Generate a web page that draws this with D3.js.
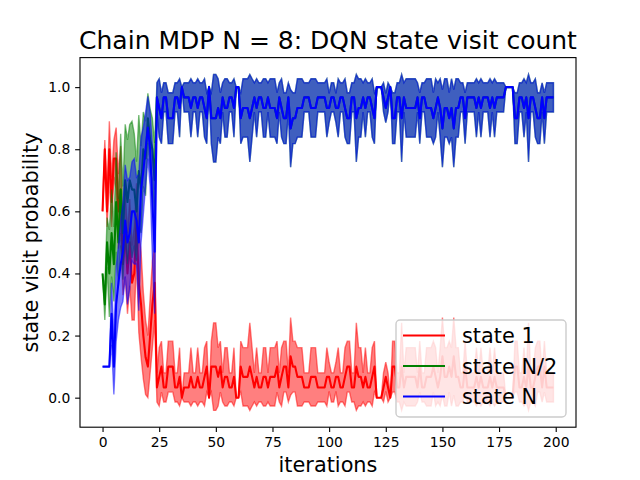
<!DOCTYPE html>
<html>
<head>
<meta charset="utf-8">
<script src="https://cdn.jsdelivr.net/npm/d3@7"></script>
<style>
  body { margin: 0; background: #fff; }
  svg { font-family: "DejaVu Sans", sans-serif; }
</style>
</head>
<body>
<div id="chart"></div>
<script>
// visit probability per iteration (mean over seeds) and its spread
const redMean = [
  0.6,0.8,0.6,0.8,0.63,0.77,0.77,0.6,0.67,0.43,
  0.53,0.4,0.5,0.37,0.4,0.57,0.37,0.3,0.2,0.13,
  0.1,0.2,0.3,0.37,0.033,
  0.067,0.1,0.033,0.033,0.1,0.1,0.1,0.033,0.033,0.067,
  0,0.033,0.033,0.033,0.067,0.033,0.033,0.067,0.033,0.033,
  0.067,0.1,0,0.1,0.1,0.1,0.067,0.1,0.033,0.067,
  0.067,0.033,0.033,0.067,0,0,0.1,0.067,0.067,0.067,
  0.1,0.067,0.033,0.067,0.033,0.033,0.067,0.067,0.033,0.067,
  0.067,0.067,0.1,0.033,0.067,0.1,0.1,0.033,0.133,0.1,
  0.1,0.067,0.067,0.067,0.033,0.033,0.033,0.067,0.067,0.067,
  0.033,0.033,0.033,0.033,0.067,0.067,0.033,0.033,0.067,0.067,
  0.033,0.033,0.067,0.1,0.1,0.033,0.033,0.1,0.067,0.067,
  0.033,0.067,0.033,0.033,0.067,0.1,0,0,0,0.033,
  0.067,0.033,0,0.1,0.1,0.033,0.033,0.1,0.033,0.067,
  0.067,0.067,0.067,0.067,0.033,0.1,0.033,0.033,0.067,0.067,
  0.067,0.1,0.067,0.033,0.067,0.133,0.067,0.067,0.1,0.067,
  0.133,0.067,0.067,0.033,0.033,0.1,0.033,0.033,0.033,0.033,
  0.067,0.033,0.067,0.033,0.033,0.033,0.067,0.033,0.067,0.033,
  0.033,0.033,0.033,0,0,0,0,0.1,0.1,0.033,
  0.033,0.067,0.033,0.1,0.033,0.033,0.067,0.1,0.1,0.033,
  0.1,0.033,0.033,0.033,0.033
];
const redSd = [
  0,0.03,0.05,0.09,0.08,0.06,0.1,0.12,0.14,0.1,
  0.14,0.13,0.14,0.12,0.15,0.12,0.16,0.17,0.14,0.12,
  0.1,0.12,0.14,0.12,0.047,
  0.094,0.082,0.047,0.047,0.082,0.082,0.082,0.047,0.047,0.094,
  0,0.047,0.047,0.047,0.094,0.047,0.047,0.094,0.047,0.047,
  0.094,0.082,0,0.082,0.141,0.141,0.094,0.082,0.047,0.094,
  0.094,0.047,0.047,0.094,0,0,0.082,0.094,0.094,0.094,
  0.141,0.094,0.047,0.094,0.047,0.047,0.094,0.094,0.047,0.094,
  0.094,0.094,0.082,0.047,0.094,0.082,0.082,0.047,0.125,0.082,
  0.082,0.094,0.094,0.094,0.047,0.047,0.047,0.094,0.094,0.094,
  0.047,0.047,0.047,0.047,0.094,0.047,0.047,0.047,0.047,0.094,
  0.047,0.047,0.094,0.082,0.082,0.047,0.047,0.141,0.094,0.094,
  0.047,0.094,0.047,0.047,0.094,0.082,0,0,0,0.047,
  0.047,0.047,0,0.082,0.082,0.047,0.047,0.141,0.047,0.094,
  0.094,0.094,0.094,0.094,0.047,0.082,0.047,0.047,0.094,0.094,
  0.094,0.082,0.094,0.047,0.094,0.125,0.094,0.094,0.082,0.094,
  0.125,0.094,0.094,0.047,0.047,0.082,0.047,0.047,0.047,0.047,
  0.094,0.047,0.094,0.047,0.047,0.047,0.094,0.047,0.094,0.047,
  0.047,0.047,0.047,0,0,0,0,0.082,0.082,0.047,
  0.047,0.094,0.047,0.141,0.047,0.047,0.094,0.082,0.082,0.047,
  0.082,0.047,0.047,0.047,0.047
];

// state N/2 runs right underneath state N once the agent has learned
const greenMean = [
  0.4,0.3,0.5,0.4,0.53,0.43,0.63,0.5,0.67,0.53,
  0.7,0.63,0.7,0.67,0.67,0.6,0.73,0.67,0.8,0.77,
  0.9,0.83,0.8,0.7,0.967,
  0.933,0.9,0.967,0.967,0.9,0.9,0.9,0.967,0.967,0.933,
  1,0.967,0.967,0.967,0.933,0.967,0.967,0.933,0.967,0.967,
  0.933,0.9,1,0.9,0.9,0.9,0.933,0.9,0.967,0.933,
  0.933,0.967,0.967,0.933,1,1,0.9,0.933,0.933,0.933,
  0.9,0.933,0.967,0.933,0.967,0.967,0.933,0.933,0.967,0.933,
  0.933,0.933,0.9,0.967,0.933,0.9,0.9,0.967,0.867,0.9,
  0.9,0.933,0.933,0.933,0.967,0.967,0.967,0.933,0.933,0.933,
  0.967,0.967,0.967,0.967,0.933,0.933,0.967,0.967,0.933,0.933,
  0.967,0.967,0.933,0.9,0.9,0.967,0.967,0.9,0.933,0.933,
  0.967,0.933,0.967,0.967,0.933,0.9,1,1,1,0.967,
  0.933,0.967,1,0.9,0.9,0.967,0.967,0.9,0.967,0.933,
  0.933,0.933,0.933,0.933,0.967,0.9,0.967,0.967,0.933,0.933,
  0.933,0.9,0.933,0.967,0.933,0.867,0.933,0.933,0.9,0.933,
  0.867,0.933,0.933,0.967,0.967,0.9,0.967,0.967,0.967,0.967,
  0.933,0.967,0.933,0.967,0.967,0.967,0.933,0.967,0.933,0.967,
  0.967,0.967,0.967,1,1,1,1,0.9,0.9,0.967,
  0.967,0.933,0.967,0.9,0.967,0.967,0.933,0.9,0.9,0.967,
  0.9,0.967,0.967,0.967,0.967
];
const greenSd = [
  0,0.05,0.08,0.14,0.14,0.12,0.16,0.14,0.18,0.15,
  0.18,0.2,0.18,0.22,0.18,0.16,0.18,0.14,0.12,0.12,
  0.08,0.1,0.1,0.12,0.047,
  0.094,0.082,0.047,0.047,0.082,0.082,0.082,0.047,0.047,0.094,
  0,0.047,0.047,0.047,0.094,0.047,0.047,0.094,0.047,0.047,
  0.094,0.082,0,0.082,0.141,0.141,0.094,0.082,0.047,0.094,
  0.094,0.047,0.047,0.094,0,0,0.082,0.094,0.094,0.094,
  0.141,0.094,0.047,0.094,0.047,0.047,0.094,0.094,0.047,0.094,
  0.094,0.094,0.082,0.047,0.094,0.082,0.082,0.047,0.125,0.082,
  0.082,0.094,0.094,0.094,0.047,0.047,0.047,0.094,0.094,0.094,
  0.047,0.047,0.047,0.047,0.094,0.047,0.047,0.047,0.047,0.094,
  0.047,0.047,0.094,0.082,0.082,0.047,0.047,0.141,0.094,0.094,
  0.047,0.094,0.047,0.047,0.094,0.082,0,0,0,0.047,
  0.047,0.047,0,0.082,0.082,0.047,0.047,0.141,0.047,0.094,
  0.094,0.094,0.094,0.094,0.047,0.082,0.047,0.047,0.094,0.094,
  0.094,0.082,0.094,0.047,0.094,0.125,0.094,0.094,0.082,0.094,
  0.125,0.094,0.094,0.047,0.047,0.082,0.047,0.047,0.047,0.047,
  0.094,0.047,0.094,0.047,0.047,0.047,0.094,0.047,0.094,0.047,
  0.047,0.047,0.047,0,0,0,0,0.082,0.082,0.047,
  0.047,0.094,0.047,0.141,0.047,0.047,0.094,0.082,0.082,0.047,
  0.082,0.047,0.047,0.047,0.047
];

const blueMean = [
  0.1,0.1,0.1,0.1,0.27,0.1,0.3,0.37,0.43,0.47,
  0.57,0.5,0.53,0.6,0.6,0.57,0.5,0.67,0.73,0.8,
  0.87,0.8,0.63,0.47,0.967,
  0.933,0.9,0.967,0.967,0.9,0.9,0.9,0.967,0.967,0.933,
  1,0.967,0.967,0.967,0.933,0.967,0.967,0.933,0.967,0.967,
  0.933,0.9,1,0.9,0.9,0.9,0.933,0.9,0.967,0.933,
  0.933,0.967,0.967,0.933,1,1,0.9,0.933,0.933,0.933,
  0.9,0.933,0.967,0.933,0.967,0.967,0.933,0.933,0.967,0.933,
  0.933,0.933,0.9,0.967,0.933,0.9,0.9,0.967,0.867,0.9,
  0.9,0.933,0.933,0.933,0.967,0.967,0.967,0.933,0.933,0.933,
  0.967,0.967,0.967,0.967,0.933,0.933,0.967,0.967,0.933,0.933,
  0.967,0.967,0.933,0.9,0.9,0.967,0.967,0.9,0.933,0.933,
  0.967,0.933,0.967,0.967,0.933,0.9,1,1,1,0.967,
  0.933,0.967,1,0.9,0.9,0.967,0.967,0.9,0.967,0.933,
  0.933,0.933,0.933,0.933,0.967,0.9,0.967,0.967,0.933,0.933,
  0.933,0.9,0.933,0.967,0.933,0.867,0.933,0.933,0.9,0.933,
  0.867,0.933,0.933,0.967,0.967,0.9,0.967,0.967,0.967,0.967,
  0.933,0.967,0.933,0.967,0.967,0.967,0.933,0.967,0.933,0.967,
  0.967,0.967,0.967,1,1,1,1,0.9,0.9,0.967,
  0.967,0.933,0.967,0.9,0.967,0.967,0.933,0.9,0.9,0.967,
  0.9,0.967,0.967,0.967,0.967
];
const blueSd = [
  0,0,0,0,0.1,0.09,0.12,0.12,0.14,0.16,
  0.18,0.2,0.18,0.16,0.17,0.14,0.22,0.17,0.14,0.12,
  0.1,0.12,0.18,0.2,0.047,
  0.094,0.082,0.047,0.047,0.082,0.082,0.082,0.047,0.047,0.094,
  0,0.047,0.047,0.047,0.094,0.047,0.047,0.094,0.047,0.047,
  0.094,0.082,0,0.082,0.141,0.141,0.094,0.082,0.047,0.094,
  0.094,0.047,0.047,0.094,0,0,0.082,0.094,0.094,0.094,
  0.141,0.094,0.047,0.094,0.047,0.047,0.094,0.094,0.047,0.094,
  0.094,0.094,0.082,0.047,0.094,0.082,0.082,0.047,0.125,0.082,
  0.082,0.094,0.094,0.094,0.047,0.047,0.047,0.094,0.094,0.094,
  0.047,0.047,0.047,0.047,0.094,0.047,0.047,0.047,0.047,0.094,
  0.047,0.047,0.094,0.082,0.082,0.047,0.047,0.141,0.094,0.094,
  0.047,0.094,0.047,0.047,0.094,0.082,0,0,0,0.047,
  0.047,0.047,0,0.082,0.082,0.047,0.047,0.141,0.047,0.094,
  0.094,0.094,0.094,0.094,0.047,0.082,0.047,0.047,0.094,0.094,
  0.094,0.082,0.094,0.047,0.094,0.125,0.094,0.094,0.082,0.094,
  0.125,0.094,0.094,0.047,0.047,0.082,0.047,0.047,0.047,0.047,
  0.094,0.047,0.094,0.047,0.047,0.047,0.094,0.047,0.094,0.047,
  0.047,0.047,0.047,0,0,0,0,0.082,0.082,0.047,
  0.047,0.094,0.047,0.141,0.047,0.047,0.094,0.082,0.082,0.047,
  0.082,0.047,0.047,0.047,0.047
];

const seriesNames = ["state 1", "state N/2", "state N"];
const xTicks = [0, 25, 50, 75, 100, 125, 150, 175, 200];
const yTicks = [0.0, 0.2, 0.4, 0.6, 0.8, 1.0];

const series = [
  { name: seriesNames[0], color: "#ff0000", mean: redMean, sd: redSd },
  { name: seriesNames[1], color: "#008000", mean: greenMean, sd: greenSd },
  { name: seriesNames[2], color: "#0000ff", mean: blueMean, sd: blueSd }
];

const width = 640;
const height = 480;
const margins = { top: 57.6, bottom: 52.8, left: 80, right: 64 };
const pt = 100 / 72;

const svg = d3.select("#chart")
  .append("svg")
  .attr("width", width)
  .attr("height", height);

// matplotlib style 5% margins around the data
const xMax = d3.max(series, s => s.mean.length - 1);
const xPad = xMax * 0.05;
const xScale = d3.scaleLinear()
  .domain([-xPad, xMax + xPad])
  .range([margins.left, width - margins.right]);

const yLo = d3.min(series, s => d3.min(s.mean, (m, i) => m - s.sd[i]));
const yHi = d3.max(series, s => d3.max(s.mean, (m, i) => m + s.sd[i]));
const yPad = (yHi - yLo) * 0.05;
const yScale = d3.scaleLinear()
  .domain([yLo - yPad, yHi + yPad])
  .range([height - margins.bottom, margins.top]);

const plot = svg.append("g");

series.forEach(s => {
  const pts = s.mean.map((m, i) => ({ i: i, m: m, sd: s.sd[i] }));
  const line = d3.line().x(d => xScale(d.i)).y(d => yScale(d.m));
  const area = d3.area()
    .x(d => xScale(d.i))
    .y0(d => yScale(d.m - d.sd))
    .y1(d => yScale(d.m + d.sd));

  plot.append("path")
    .datum(pts)
    .attr("d", line)
    .attr("fill", "none")
    .attr("stroke", s.color)
    .attr("stroke-width", 1.5 * pt)
    .attr("stroke-linejoin", "round");

  plot.append("path")
    .datum(pts)
    .attr("d", area)
    .attr("fill", s.color)
    .attr("fill-opacity", 0.5)
    .attr("stroke", s.color)
    .attr("stroke-opacity", 0.5)
    .attr("stroke-width", 1 * pt);
});

// axes
const xAxis = d3.axisBottom(xScale)
  .tickValues(xTicks)
  .tickSize(3.5 * pt)
  .tickPadding(3.5 * pt);
const yAxis = d3.axisLeft(yScale)
  .tickValues(yTicks)
  .tickFormat(d3.format(".1f"))
  .tickSize(3.5 * pt)
  .tickPadding(3.5 * pt);

const gx = svg.append("g")
  .attr("transform", `translate(0,${height - margins.bottom})`)
  .call(xAxis);
const gy = svg.append("g")
  .attr("transform", `translate(${margins.left},0)`)
  .call(yAxis);

[gx, gy].forEach(g => {
  g.select(".domain").remove();
  g.selectAll(".tick line").attr("stroke", "#000").attr("stroke-width", 0.8 * pt);
  g.selectAll(".tick text")
    .attr("fill", "#000")
    .style("font-size", (10 * pt) + "px")
    .style("font-family", "DejaVu Sans, sans-serif");
});

svg.append("rect")
  .attr("x", margins.left)
  .attr("y", margins.top)
  .attr("width", width - margins.left - margins.right)
  .attr("height", height - margins.top - margins.bottom)
  .attr("fill", "none")
  .attr("stroke", "#000")
  .attr("stroke-width", 0.8 * pt);

// title and labels
const cx = (margins.left + width - margins.right) / 2;
svg.append("text")
  .attr("x", cx)
  .attr("y", 49)
  .attr("text-anchor", "middle")
  .style("font-size", (18 * pt) + "px")
  .text("Chain MDP N = 8: DQN state visit count");

svg.append("text")
  .attr("x", cx)
  .attr("y", 472)
  .attr("text-anchor", "middle")
  .style("font-size", (15 * pt) + "px")
  .text("iterations");

svg.append("text")
  .attr("transform", `translate(38,${(margins.top + height - margins.bottom) / 2}) rotate(-90)`)
  .attr("text-anchor", "middle")
  .style("font-size", (15 * pt) + "px")
  .text("state visit probability");

// legend
const legend = svg.append("g").attr("transform", "translate(396,320)");
legend.append("rect")
  .attr("width", 170)
  .attr("height", 97)
  .attr("rx", 4)
  .attr("fill", "#fff")
  .attr("fill-opacity", 0.8)
  .attr("stroke", "#cccccc")
  .attr("stroke-width", 1 * pt);

const rowY = d3.scalePoint().domain(seriesNames).range([15.5, 76.5]);
const items = legend.selectAll("g.item")
  .data(series)
  .join("g")
  .attr("class", "item")
  .attr("transform", d => `translate(0,${rowY(d.name)})`);
items.append("line")
  .attr("x1", 7).attr("x2", 49)
  .attr("stroke", d => d.color)
  .attr("stroke-width", 1.5 * pt);
items.append("text")
  .attr("x", 66)
  .attr("dy", "0.36em")
  .style("font-size", (15 * pt) + "px")
  .text(d => d.name);
</script>
</body>
</html>
